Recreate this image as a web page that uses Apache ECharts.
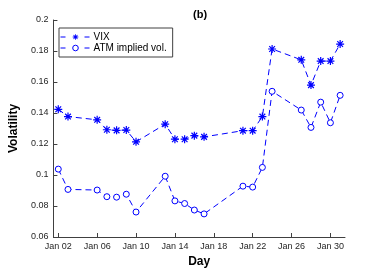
<!DOCTYPE html>
<html>
<head>
<meta charset="utf-8">
<script src="https://cdn.jsdelivr.net/npm/echarts@6/dist/echarts.min.js"></script>
<style>html,body{margin:0;padding:0;background:#fff}#c{width:382px;height:273px}</style>
</head>
<body>
<div id="c"></div>
<script>
const days = [2,3,6,7,8,9,10,13,14,15,16,17,21,22,23,24,27,28,29,30,31];
const vix = [0.1424,0.1377,0.1356,0.1292,0.1288,0.1290,0.1214,0.1328,0.1231,0.1231,0.1254,0.1246,0.1286,0.1286,0.1377,0.1813,0.1743,0.1580,0.1735,0.1735,0.1845];
const atm = [0.1038,0.0907,0.0903,0.0860,0.0857,0.0876,0.0761,0.0992,0.0833,0.0816,0.0774,0.0749,0.0928,0.0922,0.1049,0.1540,0.1419,0.1307,0.1470,0.1337,0.1514];
const xTickDays = [2,6,10,14,18,22,26,30];
const xTickLabels = ['Jan 02','Jan 06','Jan 10','Jan 14','Jan 18','Jan 22','Jan 26','Jan 30'];
const seriesNames = ['VIX','ATM implied vol.'];

const asterisk = 'path://M4.25 0L5.75 0L5.75 10L4.25 10Z M0 4.25L10 4.25L10 5.75L0 5.75Z M0.9 1.95L1.95 0.9L9.1 8.05L8.05 9.1Z M8.05 0.9L9.1 1.95L1.95 9.1L0.9 8.05Z';
const blue = '#0000ff';
const font = 'Liberation Sans, Arial, sans-serif';
const axisColor = '#404040';

const chart = echarts.init(document.getElementById('c'), null, {renderer:'canvas'});
chart.setOption({
  animation: false,
  backgroundColor: '#fff',
  title: {
    text: '(b)', left: 188, top: 4,
    textStyle: {fontSize: 11, fontWeight: 'bold', color: '#000', fontFamily: font}
  },
  legend: {
    orient: 'vertical', left: 59, top: 28,
    padding: [4, 6, 4, 1], itemGap: 1, itemWidth: 30, itemHeight: 7,
    borderColor: '#404040', borderWidth: 1, backgroundColor: '#fff',
    textStyle: {fontSize: 10, color: '#000', fontFamily: font, padding: [0,0,0,-2]},
    lineStyle: {type: [5, 19], width: 1},
    itemStyle: {borderWidth: 1},
    data: seriesNames
  },
  grid: {left: 50, right: 37, top: 20, bottom: 32},
  xAxis: {
    type: 'value', min: 1.5, max: 31.5,
    name: 'Day', nameLocation: 'middle', nameGap: 19,
    nameTextStyle: {fontSize: 12, fontWeight: 'bold', color: '#000', fontFamily: font},
    axisLine: {onZero: false, lineStyle: {color: axisColor, width: 1}},
    axisTick: {inside: true, length: 4, customValues: xTickDays, lineStyle: {color: axisColor}},
    axisLabel: {
      customValues: xTickDays, margin: 5, fontSize: 9, color: '#262626', fontFamily: font,
      formatter: v => xTickLabels[xTickDays.indexOf(v)]
    },
    splitLine: {show: false}
  },
  yAxis: {
    type: 'value', min: 0.06, max: 0.2, interval: 0.02,
    name: 'Volatility', nameLocation: 'middle', nameGap: 26,
    nameTextStyle: {fontSize: 12, fontWeight: 'bold', color: '#000', fontFamily: font},
    axisLine: {show: true, lineStyle: {color: axisColor, width: 1}},
    axisTick: {show: true, inside: true, length: 4, lineStyle: {color: axisColor}},
    axisLabel: {margin: 5, fontSize: 9, color: '#262626', fontFamily: font},
    splitLine: {show: false}
  },
  series: [
    {
      name: seriesNames[0], type: 'line',
      data: days.map((d, i) => [d, vix[i]]),
      symbol: asterisk, symbolSize: 8,
      itemStyle: {color: blue},
      lineStyle: {color: blue, width: 1, type: [6, 4]}
    },
    {
      name: seriesNames[1], type: 'line',
      data: days.map((d, i) => [d, atm[i]]),
      symbol: 'circle', symbolSize: 6,
      itemStyle: {color: '#fff', borderColor: blue, borderWidth: 1},
      lineStyle: {color: blue, width: 1, type: [6, 4]}
    }
  ]
});
</script>
</body>
</html>
